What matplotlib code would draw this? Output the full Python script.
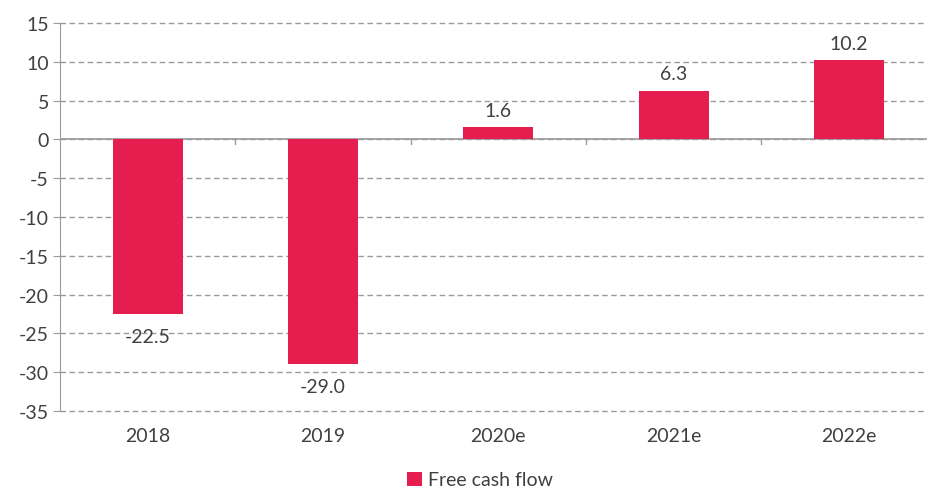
import numpy as np
import matplotlib
matplotlib.use('Agg')
from matplotlib import pyplot as plt
from matplotlib.patches import Patch

# data
years = ['2018', '2019', '2020e', '2021e', '2022e']
fcf = [-22.5, -29.0, 1.6, 6.3, 10.2]
yticks = list(range(-35, 20, 5))

bar_color = '#E61E50'
text_color = '#404040'
grid_color = '#9A9A9A'

plt.rcParams['font.family'] = ['Lato', 'DejaVu Sans']
fs = 14

fig = plt.figure(figsize=(9.28, 4.89), dpi=100)
ax = fig.add_axes([60/928, 1-412/489, 1-60/928, (412-24)/489])

x = np.arange(len(years))
ax.bar(x, fcf, width=0.4, color=bar_color, zorder=3)

for xi, v in zip(x, fcf):
    if v >= 0:
        ax.annotate('%.1f' % v, (xi, v), xytext=(0, 6), textcoords='offset points',
                    ha='center', va='bottom', fontsize=fs, color=text_color)
    else:
        ax.annotate('%.1f' % v, (xi, v), xytext=(0, -10), textcoords='offset points',
                    ha='center', va='top', fontsize=fs, color=text_color)

ax.set_ylim(-35, 15)
ax.set_xlim(-0.5, 4.45)
ax.set_yticks(yticks)
ax.set_yticklabels([str(t) for t in yticks], fontsize=fs, color=text_color)

ax.yaxis.grid(True, linestyle=(0, (4, 2.5)), color=grid_color, linewidth=1, zorder=0)
for gl in ax.get_ygridlines():
    gl.set_clip_on(False)
ax.set_axisbelow(True)

for s in ['top', 'right', 'bottom']:
    ax.spines[s].set_visible(False)
ax.spines['left'].set_color(grid_color)
ax.axhline(0, color=grid_color, linewidth=1.2, zorder=2)
ax.tick_params(axis='y', length=5, color=grid_color, pad=3)

# category boundary ticks on the zero line
ax.set_xticks([])
for b in np.arange(0.5, 4.5, 1.0):
    ax.plot([b, b], [0, -0.6], color=grid_color, linewidth=1, zorder=2)

for xi, lab in zip(x, years):
    ax.text(xi, -37.0, lab, ha='center', va='top', fontsize=fs, color=text_color)

handle = Patch(facecolor=bar_color, label='Free cash flow')
fig.legend(handles=[handle], loc='center', bbox_to_anchor=(480/928, 1-481/489),
           frameon=False, fontsize=fs, handlelength=0.75, handleheight=0.75,
           handletextpad=0.3, labelcolor=text_color)

fig.savefig('out.png', dpi=100)
